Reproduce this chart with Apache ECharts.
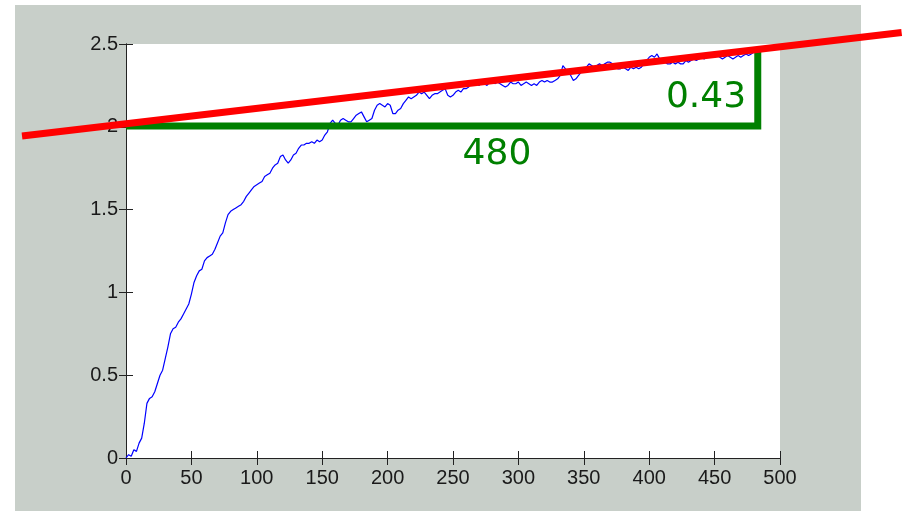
<!DOCTYPE html>
<html>
<head>
<meta charset="utf-8">
<script src="https://cdn.jsdelivr.net/npm/echarts@6/dist/echarts.min.js"></script>
<style>html,body{margin:0;padding:0;background:#fff}#c{width:904px;height:511px}</style>
</head>
<body>
<div id="c"></div>
<script>
// ---- data ----
var xTicks = [0, 50, 100, 150, 200, 250, 300, 350, 400, 450, 500];
var yTicks = [0, 0.5, 1, 1.5, 2, 2.5];
var sampleStep = 2; // blue curve sampled every 2 units of x, starting at 0
var curveY = [
  0.00,0.02,0.01,0.05,0.04,0.09,0.12,0.21,0.33,0.36,
  0.37,0.40,0.45,0.50,0.53,0.60,0.67,0.75,0.78,0.79,
  0.82,0.84,0.87,0.90,0.93,0.99,1.06,1.10,1.13,1.14,
  1.19,1.21,1.22,1.23,1.26,1.30,1.34,1.36,1.42,1.47,
  1.49,1.50,1.51,1.52,1.53,1.55,1.58,1.60,1.62,1.64,
  1.65,1.66,1.67,1.70,1.71,1.72,1.75,1.77,1.78,1.82,
  1.83,1.80,1.78,1.80,1.83,1.84,1.87,1.89,1.89,1.90,
  1.90,1.91,1.90,1.92,1.91,1.92,1.95,1.97,2.02,2.04,
  2.02,2.01,2.04,2.05,2.04,2.03,2.03,2.05,2.07,2.08,
  2.09,2.06,2.03,2.04,2.05,2.10,2.13,2.14,2.13,2.12,
  2.14,2.13,2.08,2.08,2.10,2.11,2.14,2.16,2.18,2.17,
  2.18,2.19,2.21,2.20,2.21,2.19,2.17,2.19,2.20,2.20,
  2.21,2.22,2.23,2.19,2.18,2.19,2.21,2.22,2.21,2.23,
  2.23,2.24,2.27,2.28,2.26,2.25,2.27,2.26,2.25,2.27,
  2.28,2.26,2.27,2.26,2.25,2.24,2.25,2.27,2.26,2.26,
  2.27,2.25,2.26,2.27,2.26,2.25,2.26,2.25,2.27,2.28,
  2.27,2.28,2.27,2.27,2.28,2.29,2.31,2.37,2.35,2.33,
  2.31,2.28,2.29,2.31,2.33,2.35,2.36,2.38,2.37,2.36,
  2.37,2.38,2.37,2.38,2.39,2.39,2.38,2.37,2.35,2.35,
  2.36,2.35,2.34,2.36,2.35,2.36,2.35,2.36,2.38,2.40,
  2.42,2.43,2.42,2.44,2.41,2.40,2.39,2.38,2.38,2.39,
  2.38,2.39,2.38,2.38,2.40,2.39,2.40,2.41,2.40,2.41,
  2.42,2.41,2.42,2.43,2.43,2.42,2.43,2.42,2.41,2.42,
  2.43,2.42,2.41,2.42,2.43,2.42,2.43,2.44,2.43,2.44,
  2.45
];
// red fitted line (extends past the axes)
var redLine = [[-79.5, 1.944], [593, 2.570]];
// green triangle legs
var greenLegs = [[0, 2.005], [483, 2.005], [483, 2.465]];
// annotation labels [x, y, text]
var annotations = [[283.6, 1.83, '480'], [443.4, 2.177, '0.43']];

var curve = curveY.map(function (y, i) { return [i * sampleStep, y]; });

var labelFont = {fontFamily: '"Liberation Sans", Arial, sans-serif', fontSize: 20, color: '#1a1a1a'};
var axisLine = {show: true, lineStyle: {color: '#222', width: 1}};
var tick = {show: true, inside: true, length: 7, lineStyle: {color: '#222', width: 1}};

var chart = echarts.init(document.getElementById('c'), null, {renderer: 'canvas'});
chart.setOption({
  animation: false,
  backgroundColor: '#ffffff',
  graphic: [{
    id: 'bg', type: 'rect', z: -10, silent: true,
    shape: {x: 15, y: 5, width: 846, height: 506},
    style: {fill: '#c8cfc9'}
  }],
  grid: {left: 126, top: 44, width: 654, height: 414, show: true, backgroundColor: '#ffffff', borderWidth: 0},
  xAxis: [
    {type: 'value', min: 0, max: 500, interval: 50, position: 'bottom',
     axisLine: axisLine, axisTick: tick, splitLine: {show: false},
     axisLabel: Object.assign({margin: 10}, labelFont)},
    {type: 'value', min: 0, max: 500, interval: 50, position: 'top',
     axisLine: axisLine, axisTick: tick, splitLine: {show: false}, axisLabel: {show: false}}
  ],
  yAxis: [
    {type: 'value', min: 0, max: 2.5, interval: 0.5, position: 'left',
     axisLine: axisLine, axisTick: tick, splitLine: {show: false},
     axisLabel: Object.assign({margin: 8}, labelFont)},
    {type: 'value', min: 0, max: 2.5, interval: 0.5, position: 'right',
     axisLine: axisLine, axisTick: tick, splitLine: {show: false}, axisLabel: {show: false}}
  ],
  series: [
    {type: 'line', data: curve, showSymbol: false, symbol: 'none', z: 2,
     lineStyle: {color: '#0000ff', width: 1.2}},
    {type: 'line', data: greenLegs, showSymbol: false, symbol: 'none', z: 3,
     lineStyle: {color: '#008000', width: 7, cap: 'butt', join: 'miter'}}
  ]
});

// red line and annotation texts placed through the chart's own scales
var finder = {xAxisIndex: 0, yAxisIndex: 0};
var r0 = chart.convertToPixel(finder, redLine[0]);
var r1 = chart.convertToPixel(finder, redLine[1]);
var extra = [{
  id: 'red', type: 'line', z: 100, silent: true,
  shape: {x1: r0[0], y1: r0[1], x2: r1[0], y2: r1[1]},
  style: {stroke: '#ff0000', lineWidth: 7, lineCap: 'butt'}
}];
annotations.forEach(function (a, i) {
  var p = chart.convertToPixel(finder, [a[0], a[1]]);
  extra.push({
    id: 'ann' + i, type: 'text', z: 90, silent: true,
    x: p[0], y: p[1],
    style: {text: a[2], fill: '#008000', font: '36px "DejaVu Sans", Verdana, sans-serif',
            align: 'center', verticalAlign: 'middle'}
  });
});
chart.setOption({graphic: extra});
</script>
</body>
</html>
